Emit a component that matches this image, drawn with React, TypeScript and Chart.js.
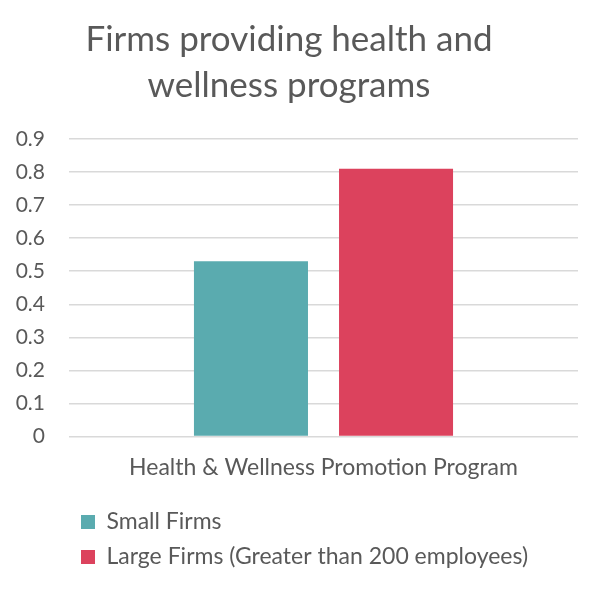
import { Chart, registerables } from "chart.js";
import React, { useEffect, useRef } from "react";

Chart.register(...registerables);

// Data
const categories = ["Health & Wellness Promotion Program"];
const seriesNames = ["Small Firms", "Large Firms (Greater than 200 employees)"];
const smallFirms = [0.53];
const largeFirms = [0.81];
const titleLines = ["Firms providing health and", "wellness programs"];

const FONT = "Lato";
const TEXT = "#595959";

const App: React.FC = () => {
  const canvasRef = useRef<HTMLCanvasElement>(null);
  const chartInstance = useRef<Chart | null>(null);

  useEffect(() => {
    const ctx = canvasRef.current?.getContext("2d");
    if (!ctx) return;

    if (chartInstance.current) {
      chartInstance.current.destroy();
    }

    chartInstance.current = new Chart(ctx, {
      type: "bar",
      data: {
        labels: categories,
        datasets: [
          {
            label: seriesNames[0],
            data: smallFirms,
            backgroundColor: "#5AABAF",
            borderWidth: 0,
          },
          {
            label: seriesNames[1],
            data: largeFirms,
            backgroundColor: "#DC425D",
            borderWidth: 0,
          },
        ],
      },
      options: {
        responsive: true,
        maintainAspectRatio: false,
        animation: false,
        categoryPercentage: 0.57,
        barPercentage: 0.786,
        layout: {
          padding: { left: 0, right: 22, top: 0, bottom: 12.5 },
        },
        scales: {
          x: {
            grid: { display: false, drawTicks: false },
            border: { display: false },
            ticks: {
              color: TEXT,
              font: { family: FONT, size: 23 },
              padding: 17.2,
            },
          },
          y: {
            min: 0,
            max: 0.9,
            afterFit: (scale: any) => {
              scale.width = 69;
            },
            border: { display: false },
            grid: {
              color: "#D9D9D9",
              lineWidth: 1.5,
              drawTicks: false,
            },
            ticks: {
              stepSize: 0.1,
              color: TEXT,
              padding: 24,
              font: { family: FONT, size: 21 },
              callback: (value) => String(Number(Number(value).toFixed(1))),
            },
          },
        },
        plugins: {
          title: {
            display: true,
            text: titleLines,
            color: TEXT,
            font: { family: FONT, size: 35, weight: "normal", lineHeight: 46 / 35 },
            padding: { top: 17, bottom: 30 },
          },
          legend: {
            display: true,
            position: "bottom",
            align: "start",
            fullSize: false,
            labels: {
              boxWidth: 14,
              boxHeight: 14,
              padding: 12,
              color: TEXT,
              font: { family: FONT, size: 23 },
            },
          },
          tooltip: { enabled: false },
        },
      },
    });

    return () => {
      chartInstance.current?.destroy();
      chartInstance.current = null;
    };
  }, []);

  return (
    <div
      style={{
        position: "absolute",
        left: 0,
        top: 0,
        width: 600,
        height: 591,
        background: "#ffffff",
      }}
    >
      <canvas ref={canvasRef} />
    </div>
  );
};

export default App;
